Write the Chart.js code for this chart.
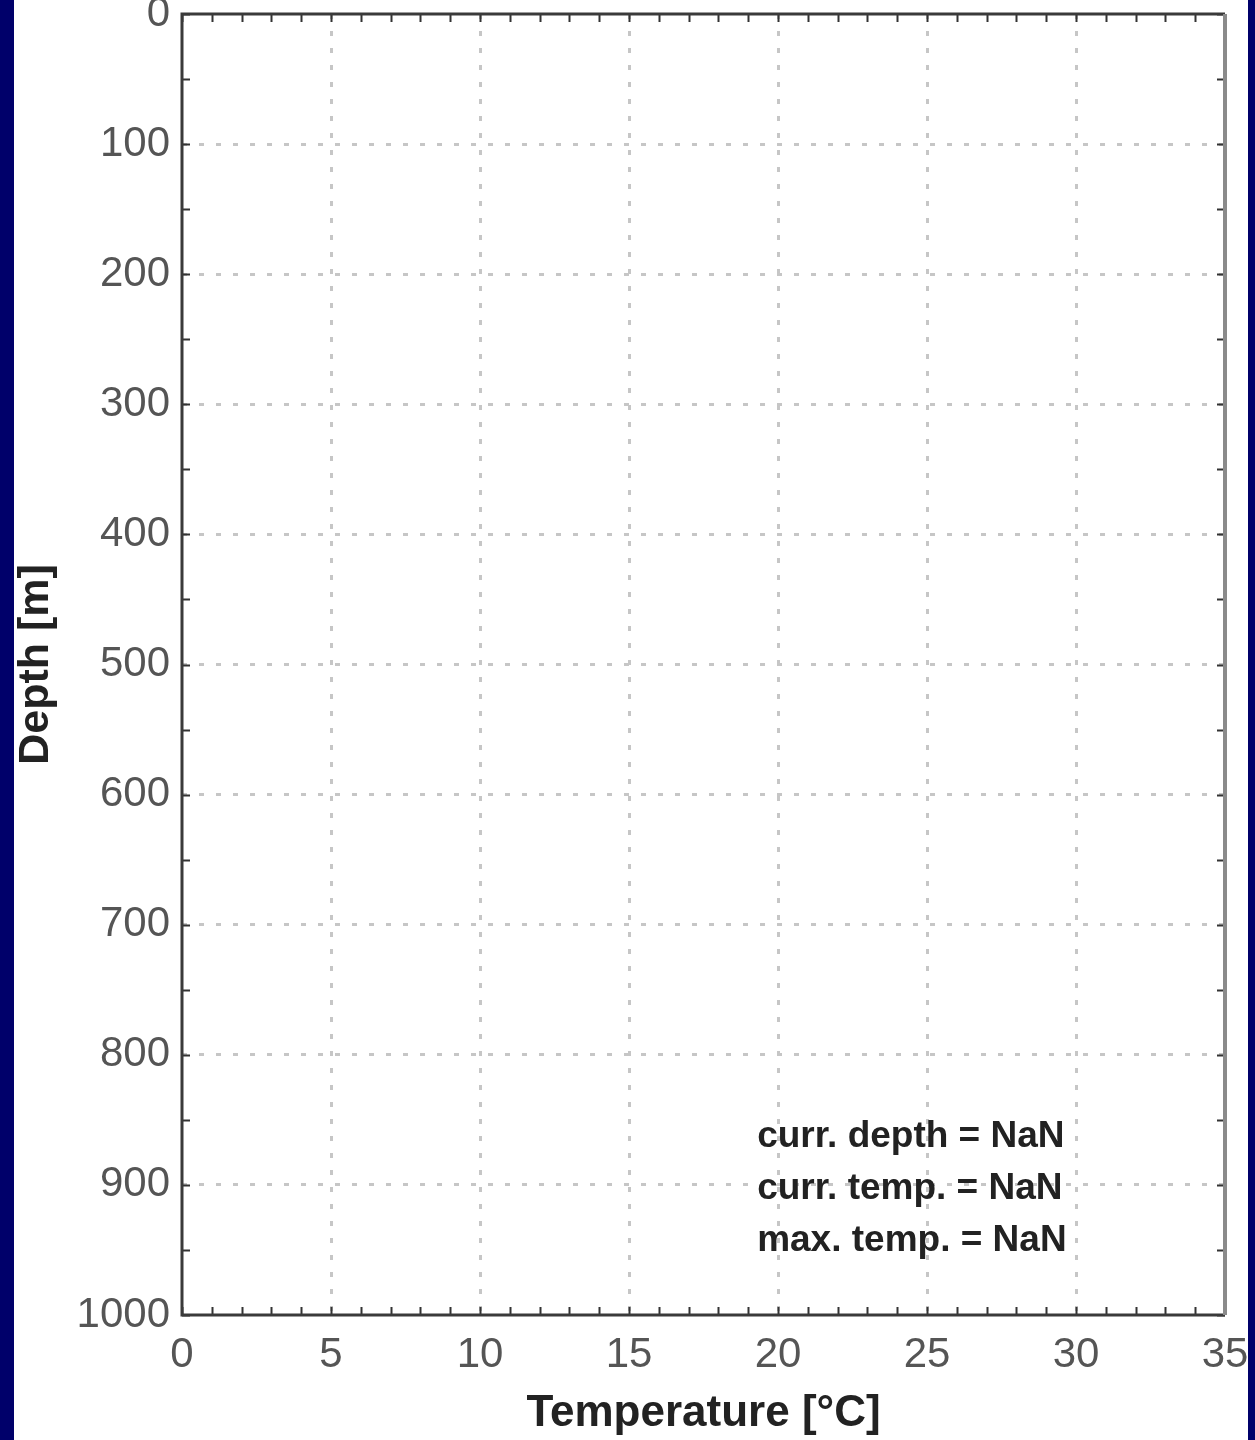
<!DOCTYPE html>
<html>
<head>
<meta charset="utf-8">
<title>Temperature profile</title>
<script src="https://cdn.jsdelivr.net/npm/chart.js@4.4.0/dist/chart.umd.min.js"></script>
<style>
  html, body { margin: 0; padding: 0; background: #ffffff; }
  canvas { display: block; }
</style>
</head>
<body>
<canvas id="profile" width="1255" height="1440"></canvas>
<script>
// Axis ranges and tick labels
const temperatureTicks = [0, 5, 10, 15, 20, 25, 30, 35];
const depthTicks = [0, 100, 200, 300, 400, 500, 600, 700, 800, 900, 1000];

// Measured profile (no samples received yet)
const profileTemperature = [];
const profileDepth = [];

// Live readouts shown in the lower-right corner
const readoutLabels = ['curr. depth', 'curr. temp.', 'max. temp.'];
const readoutValues = [NaN, NaN, NaN];

// Minor tick spacing along each axis
const temperatureMinorStep = 1;
const depthMinorStep = 50;

// Readout block anchor (data units) and line spacing
const readoutAnchorTemperature = 19.3;
const readoutAnchorDepth = 863;
const readoutLineSpacing = 52;

const FONT = '"Liberation Sans", Arial, Helvetica, sans-serif';
const NAVY = '#00006a';

const profilePoints = profileTemperature.map((t, i) => ({ x: t, y: profileDepth[i] }));

const isEdge = (value, ticks) => value === ticks[0] || value === ticks[ticks.length - 1];

const frameAndReadouts = {
  id: 'frameAndReadouts',
  beforeDraw(chart) {
    const { ctx, width, height } = chart;
    ctx.save();
    ctx.fillStyle = '#ffffff';
    ctx.fillRect(0, 0, width, height);
    ctx.restore();
  },
  afterDatasetsDraw(chart) {
    const { ctx, chartArea: a, scales: { x, y } } = chart;
    const tickLen = 8;
    ctx.save();

    // inward minor ticks on all four sides
    ctx.strokeStyle = '#333333';
    ctx.lineWidth = 2;
    ctx.beginPath();
    for (let t = x.min; t <= x.max + 1e-9; t += temperatureMinorStep) {
      const px = Math.round(x.getPixelForValue(t)) + 0.5;
      ctx.moveTo(px, a.bottom); ctx.lineTo(px, a.bottom - tickLen);
      ctx.moveTo(px, a.top); ctx.lineTo(px, a.top + tickLen);
    }
    for (let d = y.min; d <= y.max + 1e-9; d += depthMinorStep) {
      const py = Math.round(y.getPixelForValue(d)) + 0.5;
      ctx.moveTo(a.left, py); ctx.lineTo(a.left + tickLen, py);
      ctx.moveTo(a.right, py); ctx.lineTo(a.right - tickLen, py);
    }
    ctx.stroke();

    // plot frame
    ctx.lineWidth = 3;
    ctx.strokeStyle = '#3a3a3a';
    ctx.beginPath();
    ctx.moveTo(a.right, a.top); ctx.lineTo(a.left, a.top);
    ctx.lineTo(a.left, a.bottom); ctx.lineTo(a.right, a.bottom);
    ctx.stroke();
    ctx.strokeStyle = '#8a8a8a';
    ctx.lineWidth = 4;
    ctx.beginPath();
    ctx.moveTo(a.right, a.top); ctx.lineTo(a.right, a.bottom);
    ctx.stroke();

    // readouts
    ctx.fillStyle = '#222222';
    ctx.font = 'bold 37px ' + FONT;
    ctx.textAlign = 'left';
    ctx.textBaseline = 'middle';
    const rx = x.getPixelForValue(readoutAnchorTemperature);
    const ry = y.getPixelForValue(readoutAnchorDepth);
    readoutLabels.forEach((label, i) => {
      ctx.fillText(label + ' = ' + String(readoutValues[i]), rx, ry + i * readoutLineSpacing);
    });
    ctx.restore();
  },
  afterDraw(chart) {
    const { ctx, width, height } = chart;
    ctx.save();
    ctx.fillStyle = NAVY;
    ctx.fillRect(0, 0, 14, height);
    ctx.fillRect(1248, 0, width - 1248, height);
    ctx.restore();
  }
};

new Chart(document.getElementById('profile'), {
  type: 'scatter',
  data: {
    datasets: [{
      label: 'Temperature profile',
      data: profilePoints,
      showLine: true,
      borderColor: '#0000ff',
      backgroundColor: '#0000ff',
      pointRadius: 0,
      borderWidth: 2
    }]
  },
  options: {
    responsive: false,
    devicePixelRatio: 1,
    animation: false,
    layout: { padding: { left: 10, right: 30, top: 14, bottom: 0 } },
    plugins: {
      legend: { display: false },
      tooltip: { enabled: false }
    },
    scales: {
      x: {
        type: 'linear',
        position: 'bottom',
        min: temperatureTicks[0],
        max: temperatureTicks[temperatureTicks.length - 1],
        afterBuildTicks(scale) { scale.ticks = temperatureTicks.map(v => ({ value: v })); },
        afterFit(scale) {
          scale.height = 125;
          scale.paddingLeft = 0; scale.paddingRight = 0;
        },
        ticks: {
          color: '#555555',
          font: { family: FONT, size: 42 },
          padding: 15,
          maxRotation: 0,
          autoSkip: false,
          callback: v => String(v)
        },
        grid: {
          drawTicks: false,
          lineWidth: 3,
          color: c => (c.tick && isEdge(c.tick.value, temperatureTicks)) ? 'rgba(0,0,0,0)' : '#c6c6c6'
        },
        border: { display: false, dash: [5, 12] },
        title: {
          display: true,
          text: 'Temperature [°C]',
          color: '#222222',
          font: { family: FONT, size: 44, weight: 'bold' },
          padding: { top: 0, bottom: 0 }
        }
      },
      y: {
        type: 'linear',
        position: 'left',
        reverse: true,
        min: depthTicks[0],
        max: depthTicks[depthTicks.length - 1],
        afterBuildTicks(scale) { scale.ticks = depthTicks.map(v => ({ value: v })); },
        afterFit(scale) {
          scale.width = 172;
          scale.paddingTop = 0; scale.paddingBottom = 0;
        },
        ticks: {
          color: '#555555',
          font: { family: FONT, size: 42 },
          padding: 12,
          autoSkip: false,
          callback: v => String(v)
        },
        grid: {
          drawTicks: false,
          lineWidth: 3,
          color: c => (c.tick && isEdge(c.tick.value, depthTicks)) ? 'rgba(0,0,0,0)' : '#c6c6c6'
        },
        border: { display: false, dash: [5, 12] },
        title: {
          display: true,
          text: 'Depth [m]',
          color: '#222222',
          font: { family: FONT, size: 43, weight: 'bold' },
          padding: { top: 0, bottom: 0 }
        }
      }
    }
  },
  plugins: [frameAndReadouts]
});
</script>
</body>
</html>
